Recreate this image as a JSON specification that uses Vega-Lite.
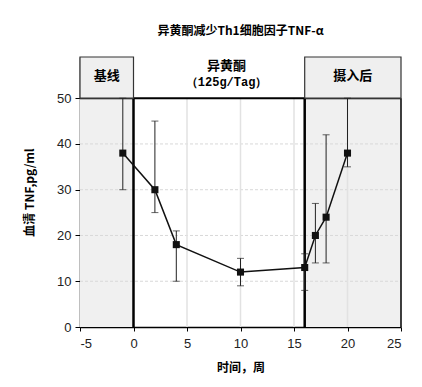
{
  "$schema": "https://vega.github.io/schema/vega-lite/v6.json",
  "width": 321,
  "height": 270,
  "autosize": "none",
  "padding": {"left": 80, "top": 57, "right": 21, "bottom": 60},
  "background": "white",
  "title": {"text": "异黄酮减少Th1细胞因子TNF-α", "font": "Noto Sans CJK SC", "fontSize": 12, "fontWeight": "bold", "color": "black", "offset": 18, "anchor": "middle"},
  "config": {
    "view": {"stroke": null},
    "axis": {"grid": false, "labelFont": "Liberation Sans", "labelFontSize": 13, "labelColor": "#222", "titleFont": "Noto Sans CJK SC", "titleFontSize": 12, "titleFontWeight": "bold", "titleColor": "black", "domainColor": "black", "domainWidth": 1.5, "tickColor": "black"}
  },
  "datasets": {
    "points": [
      {"week": -1, "tnf": 38, "lo": 30, "hi": 50},
      {"week": 2, "tnf": 30, "lo": 25, "hi": 45},
      {"week": 4, "tnf": 18, "lo": 10, "hi": 21},
      {"week": 10, "tnf": 12, "lo": 9, "hi": 15},
      {"week": 16, "tnf": 13, "lo": 8, "hi": 16},
      {"week": 17, "tnf": 20, "lo": 14, "hi": 27},
      {"week": 18, "tnf": 24, "lo": 14, "hi": 42},
      {"week": 20, "tnf": 38, "lo": 35, "hi": 50}
    ],
    "phases": [
      {"start": -5, "end": 0, "label": "基线", "mid": -2.5},
      {"start": 16, "end": 25, "label": "摄入后", "mid": 20.5}
    ],
    "dividers": [{"week": 0}, {"week": 16}],
    "middle": [{"mid": 8.7, "label": "异黄酮", "sub": "（125g/Tag）"}]
  },
  "layer": [
    {
      "data": {"name": "phases"},
      "mark": {"type": "rect", "color": "#f0f0f0"},
      "encoding": {
        "x": {"field": "start", "type": "quantitative", "title": "时间，周", "scale": {"domain": [-5, 25], "nice": false}, "axis": {"values": [-5, 0, 5, 10, 15, 20, 25], "labelExpr": "'' + datum.value", "labelPadding": 6, "titlePadding": 12, "tickSize": 4}},
        "x2": {"field": "end"},
        "y": {"datum": 0, "type": "quantitative", "title": "血清 TNF,pg/ml", "scale": {"domain": [0, 59], "nice": false}, "axis": {"values": [0, 10, 20, 30, 40, 50], "titlePadding": 20, "tickSize": 5, "labelPadding": 4}},
        "y2": {"datum": 50}
      }
    },
    {
      "data": {"values": [{"v": 10}, {"v": 20}, {"v": 30}, {"v": 40}]},
      "mark": {"type": "rule", "color": "#d8d8d8", "strokeDash": [3, 2], "strokeWidth": 1},
      "encoding": {"y": {"field": "v", "type": "quantitative", "title": "血清 TNF,pg/ml"}, "x": {"datum": -5}, "x2": {"datum": 25}}
    },
    {
      "data": {"values": [{"v": 5}, {"v": 10}, {"v": 15}, {"v": 20}]},
      "mark": {"type": "rule", "color": "#e2e2e2", "strokeWidth": 1.5},
      "encoding": {"x": {"field": "v", "type": "quantitative", "title": "时间，周"}, "y": {"datum": 0}, "y2": {"datum": 50}}
    },
    {
      "data": {"name": "dividers"},
      "mark": {"type": "rule", "color": "black", "strokeWidth": 2.5},
      "encoding": {"x": {"field": "week", "type": "quantitative", "title": "时间，周"}, "y": {"datum": 0}, "y2": {"datum": 50}}
    },
    {
      "data": {"values": [{}]},
      "mark": {"type": "rule", "color": "black", "strokeWidth": 2},
      "encoding": {"x": {"datum": -5}, "x2": {"datum": 25}, "y": {"datum": 50}}
    },
    {
      "data": {"values": [{}]},
      "mark": {"type": "rule", "color": "black", "strokeWidth": 1.5},
      "encoding": {"x": {"datum": 25}, "y": {"datum": 0}, "y2": {"datum": 50}}
    },
    {
      "data": {"name": "phases"},
      "mark": {"type": "rect", "fill": "#efefef", "stroke": "#333", "strokeWidth": 1.2},
      "encoding": {"x": {"field": "start", "type": "quantitative", "title": "时间，周"}, "x2": {"field": "end"}, "y": {"datum": 50}, "y2": {"datum": 59}}
    },
    {
      "data": {"name": "phases"},
      "mark": {"type": "text", "font": "Noto Sans CJK SC", "fontSize": 13, "fontWeight": "bold", "color": "black", "baseline": "middle"},
      "encoding": {"x": {"field": "mid", "type": "quantitative", "title": "时间，周"}, "y": {"datum": 54.8}, "text": {"field": "label"}}
    },
    {
      "data": {"name": "middle"},
      "mark": {"type": "text", "font": "Noto Sans CJK SC", "fontSize": 13, "fontWeight": "bold", "color": "black", "baseline": "middle"},
      "encoding": {"x": {"field": "mid", "type": "quantitative", "title": "时间，周"}, "y": {"datum": 57}, "text": {"field": "label"}}
    },
    {
      "data": {"name": "middle"},
      "mark": {"type": "text", "font": "Liberation Mono", "fontSize": 12, "fontWeight": "bold", "color": "black", "baseline": "middle"},
      "encoding": {"x": {"field": "mid", "type": "quantitative", "title": "时间，周"}, "y": {"datum": 53.5}, "text": {"field": "sub"}}
    },
    {
      "data": {"name": "points"},
      "mark": {"type": "errorbar", "ticks": {"size": 7, "color": "#222"}, "color": "#222", "thickness": 1},
      "encoding": {"x": {"field": "week", "type": "quantitative", "title": "时间，周"}, "y": {"field": "lo", "type": "quantitative", "title": "血清 TNF,pg/ml"}, "y2": {"field": "hi"}}
    },
    {
      "data": {"name": "points"},
      "mark": {"type": "line", "color": "#111", "strokeWidth": 1.5, "point": {"shape": "square", "size": 50, "filled": true, "color": "#111"}},
      "encoding": {"x": {"field": "week", "type": "quantitative", "title": "时间，周"}, "y": {"field": "tnf", "type": "quantitative", "title": "血清 TNF,pg/ml"}}
    }
  ]
}
